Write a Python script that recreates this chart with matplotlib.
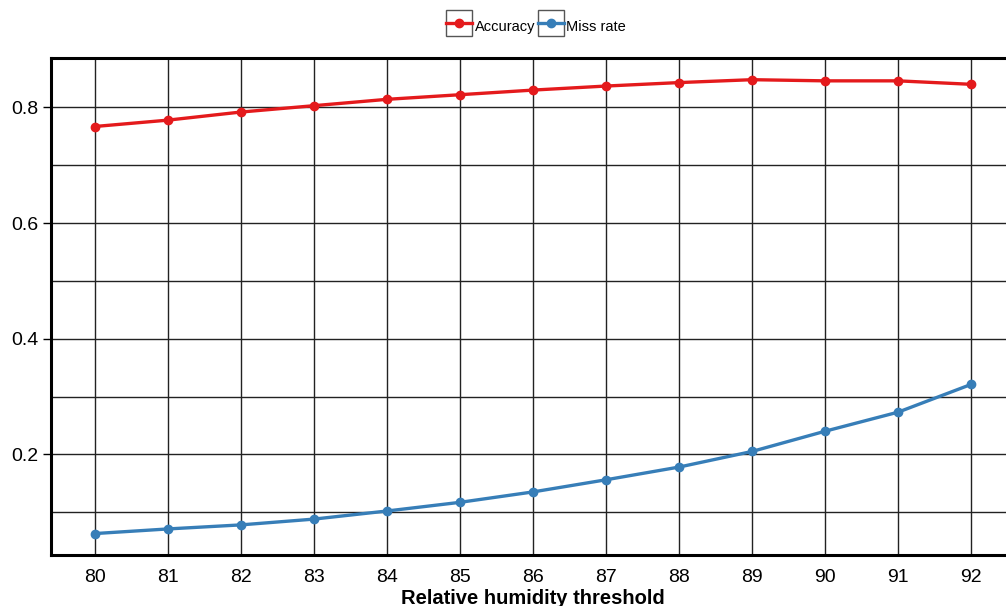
import matplotlib
matplotlib.use("Agg")
import matplotlib.pyplot as plt
from matplotlib.legend_handler import HandlerLine2D
from matplotlib.patches import Rectangle
from matplotlib.ticker import MultipleLocator

plt.rcParams["font.family"] = ["Liberation Sans", "DejaVu Sans"]

# humidity thresholds and the two scores at each one
thresholds = [80, 81, 82, 83, 84, 85, 86, 87, 88, 89, 90, 91, 92]
accuracy = [0.767, 0.778, 0.792, 0.803, 0.814, 0.822, 0.830, 0.837, 0.843, 0.848, 0.846, 0.846, 0.840]
miss_rate = [0.063, 0.071, 0.078, 0.088, 0.102, 0.117, 0.135, 0.156, 0.178, 0.205, 0.240, 0.273, 0.321]


# legend handle drawn inside its own little square frame
class BoxedLine(HandlerLine2D):
    def create_artists(self, legend, orig_handle, xdescent, ydescent,
                       width, height, fontsize, trans):
        artists = super().create_artists(legend, orig_handle, xdescent, ydescent,
                                         width, height, fontsize, trans)
        yc = artists[0].get_ydata()[0]
        side = width
        box = Rectangle((-xdescent, yc - side / 2), width, side, fill=False,
                        edgecolor="#555555", linewidth=1.0, transform=trans)
        return [box] + list(artists)


fig = plt.figure(figsize=(10.06, 6.06), dpi=100)
ax = fig.add_axes([0.0504, 0.0842, 0.9585, 0.8196])

ax.plot(thresholds, accuracy, color="#e41a1c", lw=2.4, marker="o", ms=6, label="Accuracy")
ax.plot(thresholds, miss_rate, color="#377eb8", lw=2.4, marker="o", ms=6, label="Miss rate")

ax.set_xlim(79.4, 92.6)
ax.set_ylim(0.026, 0.885)
ax.set_xticks(thresholds)
ax.yaxis.set_major_locator(MultipleLocator(0.2))
ax.yaxis.set_minor_locator(MultipleLocator(0.1))
ax.set_yticks([0.2, 0.4, 0.6, 0.8])

ax.grid(True, which="both", color="#222222", lw=1.0)
ax.set_axisbelow(True)

ax.tick_params(axis="x", length=0, pad=10, labelsize=14)
ax.tick_params(axis="y", which="major", length=6, width=1, pad=3, labelsize=14)
ax.tick_params(axis="y", which="minor", length=0)

for side in ["left", "top", "bottom", "right"]:
    ax.spines[side].set_linewidth(2.2)
    ax.spines[side].set_color("black")

ax.set_xlabel("Relative humidity threshold", fontsize=14.5, fontweight="bold", labelpad=2)

fig.legend(loc="center", bbox_to_anchor=(0.533, 0.957), ncol=2, frameon=False,
           fontsize=10.5, handlelength=1.75, handleheight=1.8, handletextpad=0.2,
           columnspacing=0.2, handler_map={plt.Line2D: BoxedLine(numpoints=1)})

plt.savefig("out.png", dpi=100)
